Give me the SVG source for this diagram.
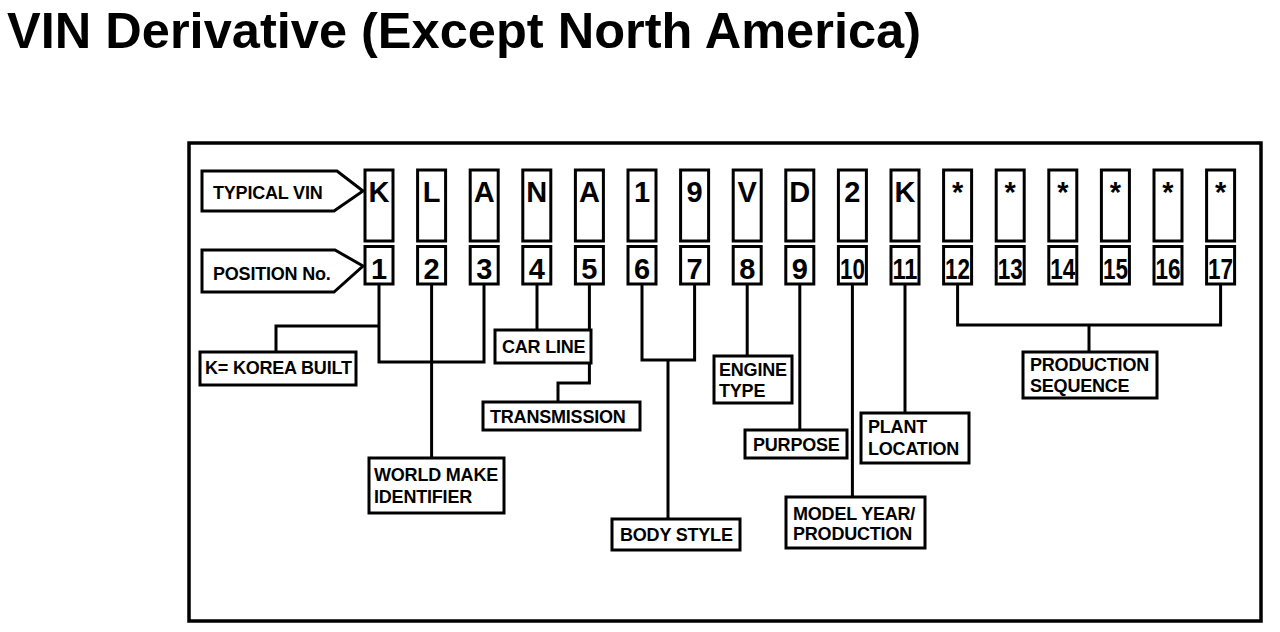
<svg xmlns="http://www.w3.org/2000/svg" width="1280" height="632" viewBox="0 0 1280 632">
<style>
.t{font-family:"Liberation Sans",Arial,sans-serif;font-weight:bold;fill:#000}
.title{font-size:50px}
.lbl{font-size:18px;letter-spacing:-0.2px}
.ch{font-size:29px;text-anchor:middle}
.box{fill:#fff;stroke:#000;stroke-width:3}
.frame{fill:none;stroke:#000;stroke-width:3.5}
.con{fill:none;stroke:#000;stroke-width:3}
</style>
<rect width="1280" height="632" fill="#fff"/>
<text class="t title" x="7" y="48" textLength="914" lengthAdjust="spacingAndGlyphs">VIN Derivative (Except North America)</text>
<rect class="frame" x="189" y="143" width="1072" height="478"/>

<g id="connectors">
<path class="con" d="M379,284 V362 H484 V284"/>
<path class="con" d="M379,326 H276 V352"/>
<path class="con" d="M431.6,284 V458"/>
<path class="con" d="M537,284 V330"/>
<path class="con" d="M589.4,284 V383 H558 V402"/>
<path class="con" d="M642,284 V360 H694.6 V284"/>
<path class="con" d="M668,360 V519"/>
<path class="con" d="M747.2,284 V356"/>
<path class="con" d="M799.8,284 V430"/>
<path class="con" d="M852.4,284 V497"/>
<path class="con" d="M905,284 V413"/>
<path class="con" d="M957.6,284 V325 H1220.6 V284"/>
<path class="con" d="M1089,325 V352"/>
</g>

<g id="typical-vin">
<polygon class="box" points="202,171 337,171 363,191 334,211 202,211"/>
<text class="t lbl" x="213" y="199">TYPICAL VIN</text>
</g>
<g id="position-no">
<polygon class="box" points="202,250 335,250 363,266 334,292 202,292"/>
<text class="t lbl" x="213" y="280">POSITION No.</text>
</g>

<g id="vin-chars">
<g id="c1"><rect class="box" x="365" y="170" width="28" height="71"/><text class="t ch" x="379" y="202">K</text></g>
<g id="c2"><rect class="box" x="417.6" y="170" width="28" height="71"/><text class="t ch" x="431.6" y="202">L</text></g>
<g id="c3"><rect class="box" x="470.2" y="170" width="28" height="71"/><text class="t ch" x="484.2" y="202">A</text></g>
<g id="c4"><rect class="box" x="522.8" y="170" width="28" height="71"/><text class="t ch" x="536.8" y="202">N</text></g>
<g id="c5"><rect class="box" x="575.4" y="170" width="28" height="71"/><text class="t ch" x="589.4" y="202">A</text></g>
<g id="c6"><rect class="box" x="628" y="170" width="28" height="71"/><text class="t ch" x="642" y="202">1</text></g>
<g id="c7"><rect class="box" x="680.6" y="170" width="28" height="71"/><text class="t ch" x="694.6" y="202">9</text></g>
<g id="c8"><rect class="box" x="733.2" y="170" width="28" height="71"/><text class="t ch" x="747.2" y="202">V</text></g>
<g id="c9"><rect class="box" x="785.8" y="170" width="28" height="71"/><text class="t ch" x="799.8" y="202">D</text></g>
<g id="c10"><rect class="box" x="838.4" y="170" width="28" height="71"/><text class="t ch" x="852.4" y="202">2</text></g>
<g id="c11"><rect class="box" x="891" y="170" width="28" height="71"/><text class="t ch" x="905" y="202">K</text></g>
<g id="c12"><rect class="box" x="943.6" y="170" width="28" height="71"/><text class="t ch" x="957.6" y="202">*</text></g>
<g id="c13"><rect class="box" x="996.2" y="170" width="28" height="71"/><text class="t ch" x="1010.2" y="202">*</text></g>
<g id="c14"><rect class="box" x="1048.8" y="170" width="28" height="71"/><text class="t ch" x="1062.8" y="202">*</text></g>
<g id="c15"><rect class="box" x="1101.4" y="170" width="28" height="71"/><text class="t ch" x="1115.4" y="202">*</text></g>
<g id="c16"><rect class="box" x="1154" y="170" width="28" height="71"/><text class="t ch" x="1168" y="202">*</text></g>
<g id="c17"><rect class="box" x="1206.6" y="170" width="28" height="71"/><text class="t ch" x="1220.6" y="202">*</text></g>
</g>

<g id="positions">
<g id="p1"><rect class="box" x="365" y="246.5" width="28" height="37.5"/><text class="t ch" x="379" y="279">1</text></g>
<g id="p2"><rect class="box" x="417.6" y="246.5" width="28" height="37.5"/><text class="t ch" x="431.6" y="279">2</text></g>
<g id="p3"><rect class="box" x="470.2" y="246.5" width="28" height="37.5"/><text class="t ch" x="484.2" y="279">3</text></g>
<g id="p4"><rect class="box" x="522.8" y="246.5" width="28" height="37.5"/><text class="t ch" x="536.8" y="279">4</text></g>
<g id="p5"><rect class="box" x="575.4" y="246.5" width="28" height="37.5"/><text class="t ch" x="589.4" y="279">5</text></g>
<g id="p6"><rect class="box" x="628" y="246.5" width="28" height="37.5"/><text class="t ch" x="642" y="279">6</text></g>
<g id="p7"><rect class="box" x="680.6" y="246.5" width="28" height="37.5"/><text class="t ch" x="694.6" y="279">7</text></g>
<g id="p8"><rect class="box" x="733.2" y="246.5" width="28" height="37.5"/><text class="t ch" x="747.2" y="279">8</text></g>
<g id="p9"><rect class="box" x="785.8" y="246.5" width="28" height="37.5"/><text class="t ch" x="799.8" y="279">9</text></g>
<g id="p10"><rect class="box" x="838.4" y="246.5" width="28" height="37.5"/><text class="t ch" x="852.4" y="279" textLength="25" lengthAdjust="spacingAndGlyphs">10</text></g>
<g id="p11"><rect class="box" x="891" y="246.5" width="28" height="37.5"/><text class="t ch" x="905" y="279" textLength="25" lengthAdjust="spacingAndGlyphs">11</text></g>
<g id="p12"><rect class="box" x="943.6" y="246.5" width="28" height="37.5"/><text class="t ch" x="957.6" y="279" textLength="25" lengthAdjust="spacingAndGlyphs">12</text></g>
<g id="p13"><rect class="box" x="996.2" y="246.5" width="28" height="37.5"/><text class="t ch" x="1010.2" y="279" textLength="25" lengthAdjust="spacingAndGlyphs">13</text></g>
<g id="p14"><rect class="box" x="1048.8" y="246.5" width="28" height="37.5"/><text class="t ch" x="1062.8" y="279" textLength="25" lengthAdjust="spacingAndGlyphs">14</text></g>
<g id="p15"><rect class="box" x="1101.4" y="246.5" width="28" height="37.5"/><text class="t ch" x="1115.4" y="279" textLength="25" lengthAdjust="spacingAndGlyphs">15</text></g>
<g id="p16"><rect class="box" x="1154" y="246.5" width="28" height="37.5"/><text class="t ch" x="1168" y="279" textLength="25" lengthAdjust="spacingAndGlyphs">16</text></g>
<g id="p17"><rect class="box" x="1206.6" y="246.5" width="28" height="37.5"/><text class="t ch" x="1220.6" y="279" textLength="25" lengthAdjust="spacingAndGlyphs">17</text></g>
</g>

<g id="korea-built"><rect class="box" x="200" y="352" width="156" height="33"/><text class="t lbl" x="205" y="374">K= KOREA BUILT</text></g>
<g id="world-make"><rect class="box" x="369" y="458" width="135" height="55"/><text class="t lbl" x="374" y="481">WORLD MAKE</text><text class="t lbl" x="374" y="503">IDENTIFIER</text></g>
<g id="car-line"><rect class="box" x="495" y="330" width="96" height="33"/><text class="t lbl" x="502" y="353">CAR LINE</text></g>
<g id="transmission"><rect class="box" x="483" y="402" width="157" height="28"/><text class="t lbl" x="490" y="423">TRANSMISSION</text></g>
<g id="body-style"><rect class="box" x="612" y="519" width="128" height="31"/><text class="t lbl" x="620" y="541">BODY STYLE</text></g>
<g id="engine-type"><rect class="box" x="714" y="356" width="78" height="47"/><text class="t lbl" x="719" y="376">ENGINE</text><text class="t lbl" x="719" y="397">TYPE</text></g>
<g id="purpose"><rect class="box" x="745" y="430" width="102" height="28"/><text class="t lbl" x="753" y="451">PURPOSE</text></g>
<g id="model-year"><rect class="box" x="786" y="497" width="139" height="51"/><text class="t lbl" x="793" y="520">MODEL YEAR/</text><text class="t lbl" x="793" y="540">PRODUCTION</text></g>
<g id="plant-location"><rect class="box" x="861" y="413" width="108" height="50"/><text class="t lbl" x="868" y="433">PLANT</text><text class="t lbl" x="868" y="455">LOCATION</text></g>
<g id="production-sequence"><rect class="box" x="1023" y="352" width="134" height="46"/><text class="t lbl" x="1030" y="371">PRODUCTION</text><text class="t lbl" x="1030" y="392">SEQUENCE</text></g>
</svg>
